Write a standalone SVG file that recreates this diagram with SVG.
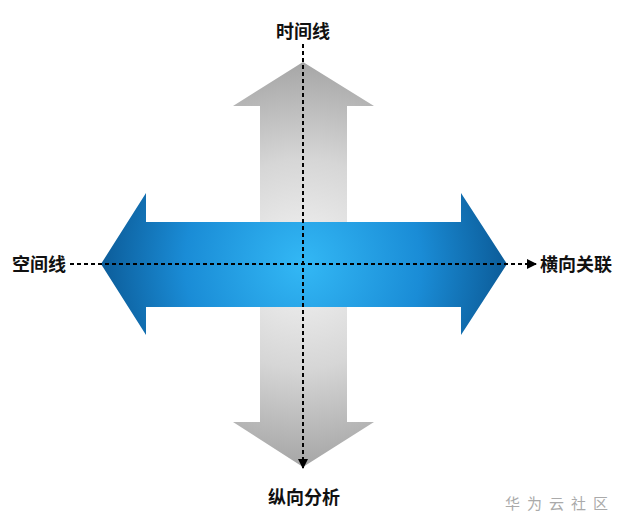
<svg xmlns="http://www.w3.org/2000/svg" width="624" height="528" viewBox="0 0 624 528">
<style>
.lbl{font-family:"Noto Sans CJK SC","Liberation Sans",sans-serif;font-size:18px;font-weight:bold;fill:#111}
.dash{stroke:#000;stroke-width:2;stroke-dasharray:4,3;fill:none}
.wm{font-family:"Noto Sans CJK SC","Liberation Sans",sans-serif;font-size:15px;fill:#aaa;letter-spacing:7px}
</style>
<defs>
<radialGradient id="gv" gradientUnits="userSpaceOnUse" cx="303" cy="264" r="210">
<stop offset="0" stop-color="#f4f4f4"/>
<stop offset="0.5" stop-color="#d6d6d6"/>
<stop offset="1" stop-color="#a2a2a2"/>
</radialGradient>
<radialGradient id="gh" gradientUnits="userSpaceOnUse" cx="303" cy="264" r="215">
<stop offset="0" stop-color="#33b8f5"/>
<stop offset="0.55" stop-color="#1a8cd6"/>
<stop offset="1" stop-color="#0a5590"/>
</radialGradient>
<marker id="ah" viewBox="0 0 10 10" refX="9" refY="5" markerWidth="5" markerHeight="5" orient="auto" markerUnits="strokeWidth">
<path d="M0,0 L10,5 L0,10 z" fill="#000"/>
</marker>
</defs>
<g id="vertical-arrow">
<polygon points="303,62 374,106 347,106 347,422 374,422 303,467 233,422 260,422 260,106 233,106" fill="url(#gv)"/>
</g>
<g id="horizontal-arrow">
<polygon points="101,264 146,193 146,222 461,222 461,193 507,264 461,335 461,307 146,307 146,335" fill="url(#gh)"/>
</g>
<g id="connectors">
<line class="dash" x1="303" y1="44" x2="303" y2="468" marker-end="url(#ah)"/>
<line class="dash" x1="70" y1="264" x2="536" y2="264" marker-end="url(#ah)"/>
</g>
<g id="label-top"><text class="lbl" x="303" y="38" text-anchor="middle">时间线</text></g>
<g id="label-left"><text class="lbl" x="12" y="271">空间线</text></g>
<g id="label-right"><text class="lbl" x="540" y="271">横向关联</text></g>
<g id="label-bottom"><text class="lbl" x="304" y="504" text-anchor="middle">纵向分析</text></g>
<g id="watermark"><text class="wm" x="505" y="509">华为云社区</text></g>
</svg>
